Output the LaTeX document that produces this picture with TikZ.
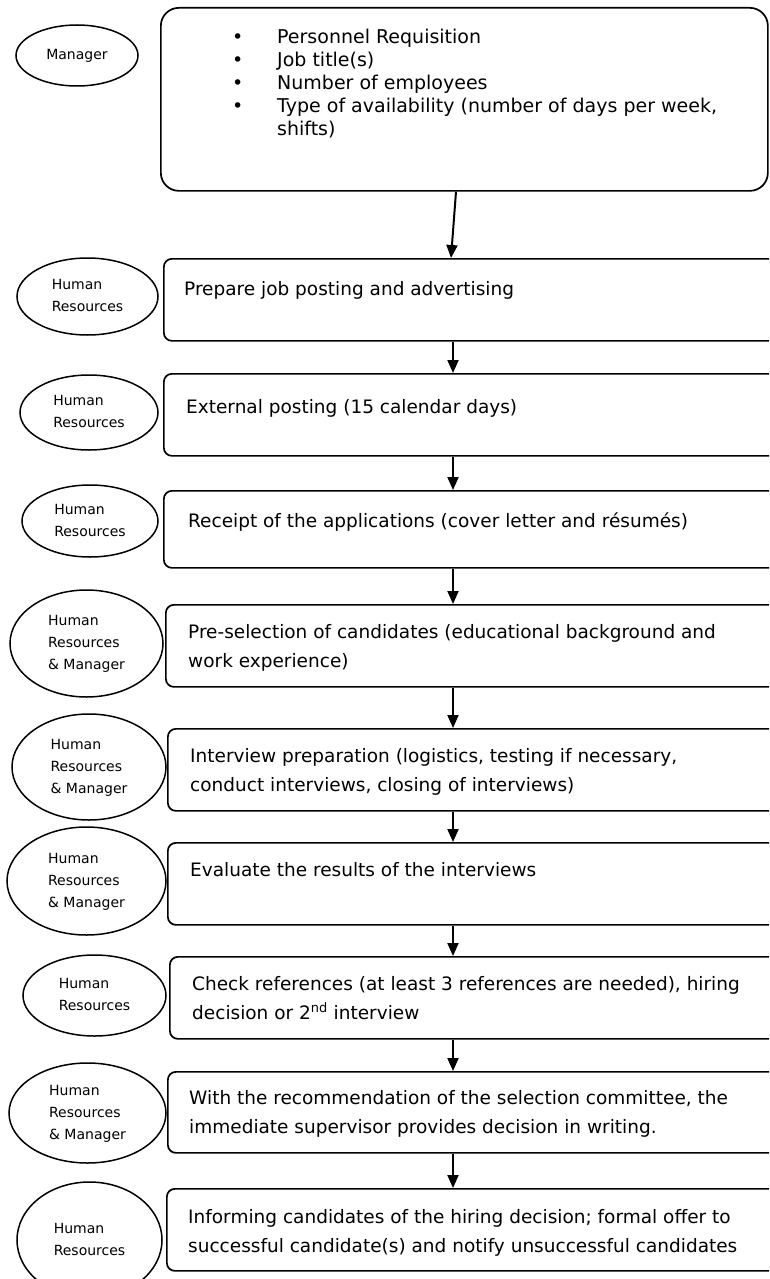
\documentclass[tikz,border=0pt]{standalone}
\usepackage{fontspec}
\setmainfont{DejaVu Sans}
\usetikzlibrary{shapes.geometric,arrows.meta,calc}
\newcommand{\mylines}[1]{\begin{tabular}[t]{@{}l@{}}#1\end{tabular}}
\newcommand{\mylinesc}[1]{\begin{tabular}{@{}l@{}}#1\end{tabular}}
\tikzset{
  stepbox/.style={draw, line width=1.7pt, rounded corners=8pt, anchor=north west, inner sep=0pt, minimum width=617pt},
  actor/.style={draw, ellipse, line width=1.5pt, inner sep=0pt, align=left, font=\fontsize{14}{22}\selectfont},
  boxtext/.style={anchor=base west, inner sep=0pt, font=\fontsize{18.5}{29}\selectfont},
  arr/.style={line width=2pt, -{Triangle[length=13pt,width=11pt]}},
}
\begin{document}
\begin{tikzpicture}[x=1pt,y=-1pt]
\useasboundingbox (0,0) rectangle (769,1279);
\fill[white] (0,0) rectangle (769,1279);
\clip (0,0) rectangle (769,1279);

% boxes
\node[stepbox, rounded corners=18pt, minimum width=607pt, minimum height=183pt] (b1) at (160,7) {};
\node[stepbox, minimum height=82pt] (b2) at (163,258) {};
\node[stepbox, minimum height=82pt] (b3) at (163,373) {};
\node[stepbox, minimum height=77pt] (b4) at (163,490) {};
\node[stepbox, minimum height=82pt] (b5) at (165,604) {};
\node[stepbox, minimum height=82pt] (b6) at (167,728) {};
\node[stepbox, minimum height=82pt] (b7) at (167,842) {};
\node[stepbox, minimum height=82pt] (b8) at (169,956) {};
\node[stepbox, minimum height=81pt] (b9) at (167,1071) {};
\node[stepbox, minimum height=82pt] (b10) at (166,1188) {};

% box texts
\node[boxtext, font=\fontsize{19}{23}\selectfont] (t1) at ($(b1.north west)+(72,37)$)
  {\begin{tabular}[t]{@{}p{45pt}@{}l@{}}
   \textbullet & Personnel Requisition\\
   \textbullet & Job title(s)\\
   \textbullet & Number of employees\\
   \textbullet & Type of availability (number of days per week,\\
               & shifts)
   \end{tabular}};
\node[boxtext] (t2) at ($(b2.north west)+(21,37)$) {\mylines{Prepare job posting and advertising}};
\node[boxtext] (t3) at ($(b3.north west)+(23,40)$) {\mylines{External posting (15 calendar days)}};
\node[boxtext] (t4) at ($(b4.north west)+(25,37)$) {\mylines{Receipt of the applications (cover letter and résumés)}};
\node[boxtext] (t5) at ($(b5.north west)+(23,34)$) {\mylines{Pre-selection of candidates (educational background and\\work experience)}};
\node[boxtext] (t6) at ($(b6.north west)+(23,34)$) {\mylines{Interview preparation (logistics, testing if necessary,\\conduct interviews, closing of interviews)}};
\node[boxtext] (t7) at ($(b7.north west)+(23,34)$) {\mylines{Evaluate the results of the interviews}};
\node[boxtext] (t8) at ($(b8.north west)+(23,34)$) {\mylines{Check references (at least 3 references are needed), hiring\\decision or 2\textsuperscript{nd} interview}};
\node[boxtext] (t9) at ($(b9.north west)+(22,33)$) {\mylines{With the recommendation of the selection committee, the\\immediate supervisor provides decision in writing.}};
\node[boxtext] (t10) at ($(b10.north west)+(22,35)$) {\mylines{Informing candidates of the hiring decision; formal offer to\\successful candidate(s) and notify unsuccessful candidates}};

% actors
\node[actor, minimum width=122pt, minimum height=61pt] (r1) at (77,55.5) {Manager};
\node[actor, minimum width=141pt, minimum height=77pt] (r2) at (87.5,296.5) {\mylinesc{Human\\Resources}};
\node[actor, minimum width=138pt, minimum height=75pt] (r3) at (89,412.5) {\mylinesc{Human\\Resources}};
\node[actor, minimum width=136pt, minimum height=72pt] (r4) at (90,521) {\mylinesc{Human\\Resources}};
\node[actor, minimum width=153pt, minimum height=107pt] (r5) at (86.5,643.5) {\mylinesc{Human\\Resources\\\& Manager}};
\node[actor, minimum width=154pt, minimum height=106pt] (r6) at (89,767) {\mylinesc{Human\\Resources\\\& Manager}};
\node[actor, minimum width=159pt, minimum height=108pt] (r7) at (86.5,881) {\mylinesc{Human\\Resources\\\& Manager}};
\node[actor, minimum width=143pt, minimum height=81pt] (r8) at (94.5,995.5) {\mylinesc{Human\\Resources}};
\node[actor, minimum width=157pt, minimum height=100pt] (r9) at (87.5,1113) {\mylinesc{Human\\Resources\\\& Manager}};
\node[actor, minimum width=145pt, minimum height=116pt] (r10) at (89.5,1240) {\mylinesc{Human\\Resources}};

% arrows
\coordinate (ax) at (453,0);
\draw[arr] ($(b1.south west)+(296,0)$) -- ($(b2.north west)+(288,0)$);
\draw[arr] (b2.south -| ax) -- (b3.north -| ax);
\draw[arr] (b3.south -| ax) -- (b4.north -| ax);
\draw[arr] (b4.south -| ax) -- (b5.north -| ax);
\draw[arr] (b5.south -| ax) -- (b6.north -| ax);
\draw[arr] (b6.south -| ax) -- (b7.north -| ax);
\draw[arr] (b7.south -| ax) -- (b8.north -| ax);
\draw[arr] (b8.south -| ax) -- (b9.north -| ax);
\draw[arr] (b9.south -| ax) -- (b10.north -| ax);
\end{tikzpicture}
\end{document}
